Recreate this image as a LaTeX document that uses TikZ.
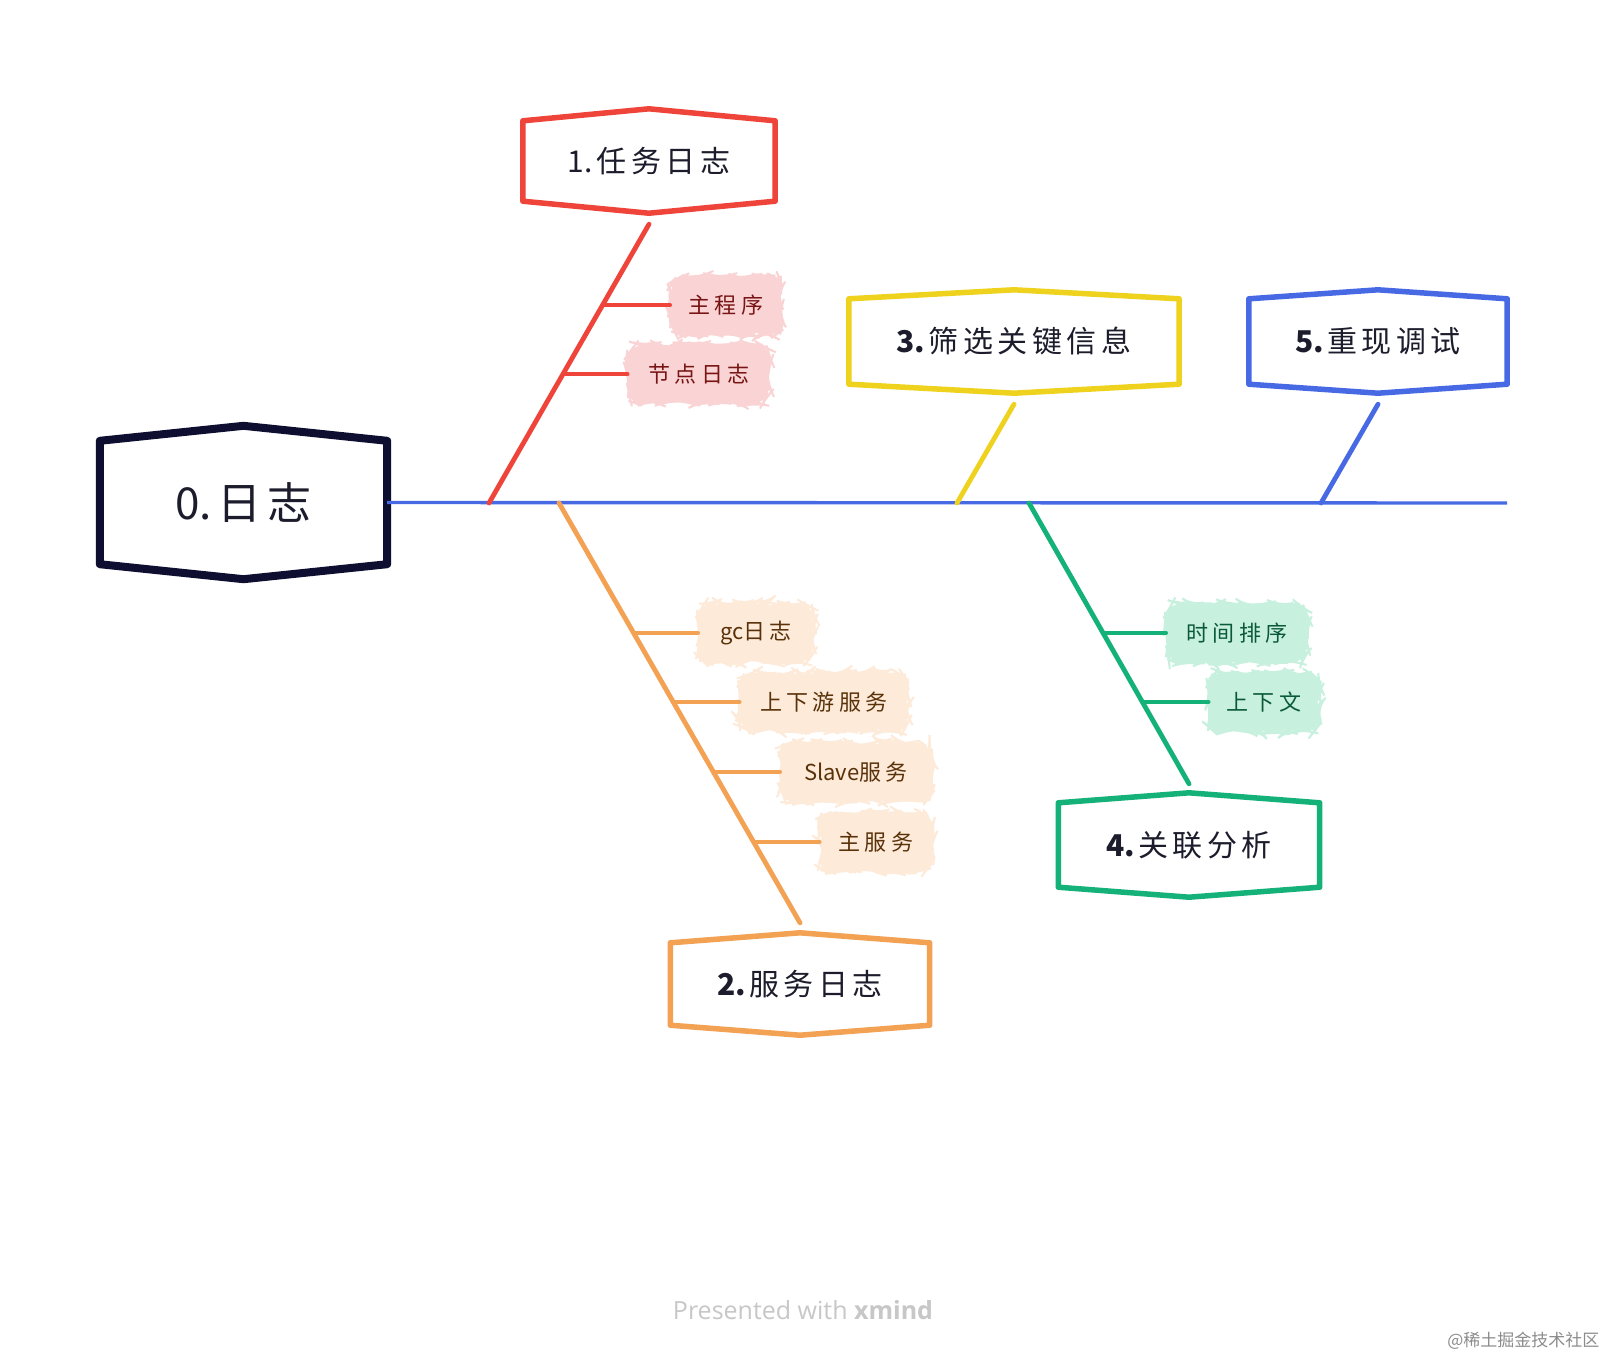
\documentclass[tikz,border=0pt]{standalone}
\usepackage{fontspec}
\usetikzlibrary{decorations.pathmorphing,calc}
\newfontfamily\cjk[LetterSpace=15]{Noto Sans CJK SC}
\newfontfamily\cjks[LetterSpace=20]{Noto Sans CJK SC}
\newfontfamily\cjkplain{Noto Sans CJK SC}
\newfontfamily\footfont{Open Sans}
\definecolor{cred}{RGB}{238,68,58}
\definecolor{corange}{RGB}{243,161,83}
\definecolor{cyellow}{RGB}{238,210,30}
\definecolor{cblue}{RGB}{72,105,228}
\definecolor{cgreen}{RGB}{20,178,120}
\definecolor{cnavy}{RGB}{14,14,48}
\definecolor{fred}{RGB}{250,212,212}
\definecolor{forange}{RGB}{253,234,217}
\definecolor{fgreen}{RGB}{200,240,222}
\definecolor{tred}{RGB}{120,20,20}
\definecolor{torange}{RGB}{90,50,10}
\definecolor{tgreen}{RGB}{10,90,55}
\definecolor{ttext}{RGB}{28,28,44}
\newcommand\hexoutline[4]{%
  \draw[#2, line width=#4, line join=round, line cap=round]
    (#1.north west) -- ([yshift=#3]#1.north) -- (#1.north east) --
    (#1.south east) -- ([yshift=-#3]#1.south) -- (#1.south west) -- cycle;}
\newcommand\lat[1]{{\cjkplain #1}}
\newcommand\num[1]{{\cjkplain\bfseries #1\hspace{0.12em}}}
\begin{document}
\pgfmathsetseed{7}
\begin{tikzpicture}[x=1pt,y=-1pt,
  mainbox/.style={inner sep=0pt, fill=white, text=ttext,
    font=\cjk\fontsize{30}{36}\selectfont},
  bub/.style={inner xsep=14pt, minimum height=58pt, fill=#1, draw=#1, line width=2pt,
    rounded corners=12pt,
    decorate, decoration={random steps, segment length=6pt, amplitude=2.5pt},
    font=\cjks\fontsize{22}{26}\selectfont},
  bone/.style={line width=4.8pt, line cap=round},
  branch/.style={line width=4pt, line cap=round},
  spine/.style={cblue, line width=3.4pt}]
\useasboundingbox[fill=white] (0,0) rectangle (1608,1360);

% main nodes
\node[mainbox, minimum width=287pt, minimum height=123pt,
  font=\cjk\fontsize{44}{50}\selectfont] (n0) at (243.5,502.5) {{\cjkplain 0.\hspace{0.12em}}日志};
\node[mainbox, minimum width=252pt, minimum height=80pt] (n1) at (649,161) {{\cjkplain 1.\hspace{0.12em}}任务日志};
\node[mainbox, minimum width=330pt, minimum height=85pt] (n3) at (1014,341.5) {\num{3.}筛选关键信息};
\node[mainbox, minimum width=258pt, minimum height=85pt] (n5) at (1378,341.5) {\num{5.}重现调试};
\node[mainbox, minimum width=261pt, minimum height=84pt] (n4) at (1189,845) {\num{4.}关联分析};
\node[mainbox, minimum width=259pt, minimum height=82pt] (n2) at (800,984) {\num{2.}服务日志};

\hexoutline{n0}{cnavy}{15pt}{8pt}
\hexoutline{n1}{cred}{12pt}{5.5pt}
\hexoutline{n3}{cyellow}{9pt}{5.5pt}
\hexoutline{n5}{cblue}{9pt}{5.5pt}
\hexoutline{n4}{cgreen}{10pt}{5.5pt}
\hexoutline{n2}{corange}{10pt}{5.5pt}

% spine
\coordinate (s1) at (489,503);
\coordinate (s2) at (559,503);
\coordinate (s3) at (957,503);
\coordinate (s4) at (1029,503);
\coordinate (s5) at (1321,503);
\coordinate (spineend) at (1507,503);
\draw[spine] (n0.east) -- (spineend);

% bones
\draw[bone, cred] ([yshift=-23pt]n1.south) -- (s1)
  coordinate[pos=0.29] (r1) coordinate[pos=0.538] (r2);
\draw[bone, cyellow] ([yshift=-20pt]n3.south) -- (s3);
\draw[bone, cblue] ([yshift=-20pt]n5.south) -- (s5);
\draw[bone, corange] (s2) -- ([yshift=20pt]n2.north)
  coordinate[pos=0.3095] (o1) coordinate[pos=0.474] (o2)
  coordinate[pos=0.640] (o3) coordinate[pos=0.807] (o4);
\draw[bone, cgreen] (s4) -- ([yshift=19pt]n4.north)
  coordinate[pos=0.4626] (g1) coordinate[pos=0.708] (g2);

% bubbles
\node[bub=fred, text=tred, minimum width=110pt] (b11) at (726,305) {主程序};
\node[bub=fred, text=tred, minimum width=141pt] (b12) at (699,374) {节点日志};
\node[bub=forange, text=torange, minimum width=114pt] (b21) at (756,633) {\lat{gc}日志};
\node[bub=forange, text=torange, minimum width=167pt] (b22) at (824,702) {上下游服务};
\node[bub=forange, text=torange, minimum width=150pt] (b23) at (856,772) {\lat{Slave}服务};
\node[bub=forange, text=torange, minimum width=111pt] (b24) at (876,842) {主服务};
\node[bub=fgreen, text=tgreen, minimum width=140pt] (b41) at (1237,633) {时间排序};
\node[bub=fgreen, text=tgreen, minimum width=109pt] (b42) at (1264,702) {上下文};

% branches
\draw[branch, cred] (r1) -- (r1 -| b11.west);
\draw[branch, cred] (r2) -- (r2 -| b12.west);
\draw[branch, corange] (o1) -- (o1 -| b21.west);
\draw[branch, corange] (o2) -- (o2 -| b22.west);
\draw[branch, corange] (o3) -- (o3 -| b23.west);
\draw[branch, corange] (o4) -- (o4 -| b24.west);
\draw[branch, cgreen] (g1) -- (g1 -| b41.west);
\draw[branch, cgreen] (g2) -- (g2 -| b42.west);

% footer
\node[font=\footfont\fontsize{25}{30}\selectfont, text=black!22] (ft) at (803,1310)
  {Presented with \textbf{xmind}};
\node[anchor=east, font=\cjkplain\fontsize{17}{20}\selectfont, text=black!45] (wm)
  at (1603,1341) {@稀土掘金技术社区};
\end{tikzpicture}
\end{document}
